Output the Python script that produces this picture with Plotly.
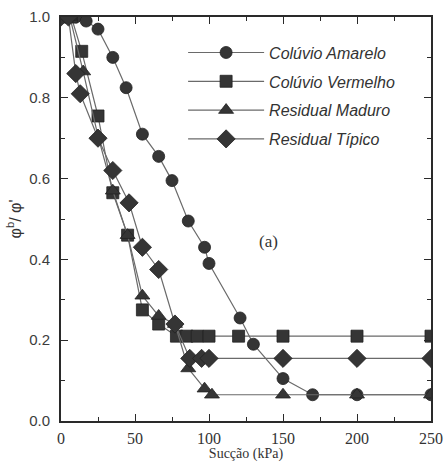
import plotly.graph_objects as go

# Suction (kPa) and normalised friction angle phi_b / phi' for each soil
amarelo_x = [0, 10, 17, 25, 35, 44, 55, 66, 75, 86, 97, 100, 121, 130, 150, 170, 200, 250]
amarelo_y = [1.0, 1.0, 0.99, 0.97, 0.90, 0.825, 0.71, 0.655, 0.595, 0.495, 0.43, 0.39,
             0.255, 0.19, 0.105, 0.065, 0.065, 0.065]

vermelho_x = [0, 7, 14, 25, 35, 45, 55, 66, 78, 85, 92, 100, 120, 150, 200, 250]
vermelho_y = [1.0, 1.0, 0.915, 0.755, 0.565, 0.46, 0.275, 0.24, 0.21, 0.21, 0.21, 0.21,
              0.21, 0.21, 0.21, 0.21]

maduro_x = [0, 6, 15, 25, 35, 45, 55, 66, 77, 86, 97, 102, 150, 200, 250]
maduro_y = [1.0, 1.0, 0.865, 0.705, 0.57, 0.46, 0.31, 0.26, 0.24, 0.13, 0.08, 0.065,
            0.065, 0.065, 0.065]

tipico_x = [0, 5, 10, 13, 25, 35, 46, 55, 66, 77, 87, 95, 100, 150, 200, 250]
tipico_y = [1.0, 1.0, 0.86, 0.81, 0.70, 0.62, 0.54, 0.43, 0.375, 0.24, 0.155, 0.155,
            0.155, 0.155, 0.155, 0.155]

series = [
    ("Colúvio Amarelo", amarelo_x, amarelo_y, "circle", 12),
    ("Colúvio Vermelho", vermelho_x, vermelho_y, "square", 12),
    ("Residual Maduro", maduro_x, maduro_y, "triangle-up", 13),
    ("Residual Típico", tipico_x, tipico_y, "diamond", 14),
]

MARK = "#353535"
LINE = "#6a6a6a"

fig = go.Figure()
for i, (name, xs, ys, sym, sz) in enumerate(series):
    fig.add_trace(go.Scatter(
        x=xs, y=ys, name=name, mode="lines+markers",
        legendgroup=f"g{i}",
        line=dict(color=LINE, width=1.2),
        marker=dict(symbol=sym, size=sz, color=MARK,
                    line=dict(color="#222222", width=0.8)),
    ))

axis_common = dict(
    showline=True, linecolor="#2a2a2a", linewidth=2, mirror="allticks",
    ticks="inside", tickcolor="#2a2a2a", ticklen=7, tickwidth=1,
    showgrid=False, zeroline=False, automargin=False,
)

fig.update_xaxes(
    range=[0, 250], tickvals=[0, 50, 100, 150, 200, 250],
    minor=dict(tickvals=[25, 75, 125, 175, 225], ticks="inside", ticklen=4,
               tickcolor="#2a2a2a"),
    tickfont=dict(family="Liberation Serif", size=16, color="#333333"),
    ticklabelstandoff=2,
    title=dict(text="Sucção (kPa)", standoff=3,
               font=dict(family="Liberation Serif", size=14, color="#333333")),
    **axis_common,
)
fig.update_yaxes(
    range=[0, 1.0], tickvals=[0, 0.2, 0.4, 0.6, 0.8, 1.0], tickformat=".1f",
    minor=dict(tickvals=[0.1, 0.3, 0.5, 0.7, 0.9], ticks="inside", ticklen=4,
               tickcolor="#2a2a2a"),
    tickfont=dict(family="Liberation Sans", size=15, color="#3c3c3c"),
    ticklabelstandoff=6,
    title=dict(text="φ<sup>b</sup>/ φ'", standoff=4,
               font=dict(family="Liberation Sans", size=16, color="#333333")),
    **axis_common,
)

fig.add_annotation(
    x=140, y=0.445, xref="x", yref="y", text="(a)", showarrow=False,
    font=dict(family="Liberation Serif", size=17, color="#333333"),
)

fig.update_layout(
    width=444, height=462,
    margin=dict(l=61, r=13, t=17, b=41),
    paper_bgcolor="white", plot_bgcolor="white",
    showlegend=True,
    legend=dict(
        x=0.33, y=0.954, xanchor="left", yanchor="top",
        bgcolor="rgba(0,0,0,0)", borderwidth=0,
        itemwidth=76, tracegroupgap=5, traceorder="grouped",
        font=dict(family="Liberation Sans", size=16, color="#333333", style="italic"),
    ),
)

fig.write_html("out.html")
